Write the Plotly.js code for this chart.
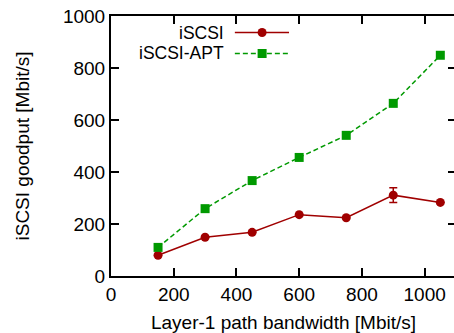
<!DOCTYPE html>
<html><head><meta charset="utf-8">
<script src="https://cdn.plot.ly/plotly-3.0.1.min.js"></script>
<style>html,body{margin:0;padding:0;overflow:hidden;background:#fff;}#chart{width:456px;height:333px;}</style>
</head><body><div id="chart"></div>
<script>
const bandwidth = [150, 300, 450, 600, 750, 900, 1050];
const iscsi = [80, 149, 168, 236, 224, 311, 283];
const iscsiErr = [0, 0, 0, 0, 0, 28, 0];
const iscsiApt = [110, 259, 367, 456, 541, 664, 849];
const seriesNames = ['iSCSI', 'iSCSI-APT'];
const tickVals = [0, 200, 400, 600, 800, 1000];

const red = '#a00000', green = '#009900';
const font = {family: 'Liberation Sans, Arial, sans-serif', size: 19, color: '#000'};
const legendFont = {family: 'Liberation Sans, Arial, sans-serif', size: 17.5, color: '#000'};

const traces = [
  {x: bandwidth, y: iscsi, name: seriesNames[0], type: 'scatter', mode: 'lines+markers',
   line: {color: red, width: 1.5}, marker: {color: red, size: 9, symbol: 'circle'},
   error_y: {type: 'data', array: iscsiErr, visible: true, color: red, thickness: 1.5, width: 4},
   showlegend: false},
  {x: bandwidth, y: iscsiApt, name: seriesNames[1], type: 'scatter', mode: 'lines+markers',
   line: {color: green, width: 1.5, dash: '5px,3px'}, marker: {color: green, size: 9, symbol: 'square'},
   showlegend: false}
];

const lgX = 0.330, lineX0 = 0.359, lineX1 = 0.516, mX = 0.438;
const rowY = [0.9365, 0.8558];
const annotations = seriesNames.map((n, i) => ({
  text: n, xref: 'paper', yref: 'paper', x: lgX, y: rowY[i], xanchor: 'right', yanchor: 'middle',
  showarrow: false, font: legendFont, height: 18, borderpad: 0
}));
const shapes = [
  {type: 'line', xref: 'paper', yref: 'paper', x0: lineX0, x1: lineX1, y0: rowY[0], y1: rowY[0], line: {color: red, width: 1.5}},
  {type: 'line', xref: 'paper', yref: 'paper', x0: lineX0, x1: lineX1, y0: rowY[1], y1: rowY[1], line: {color: green, width: 1.5, dash: '5px,3px'}},
  {type: 'circle', xref: 'paper', yref: 'paper', xsizemode: 'pixel', ysizemode: 'pixel', xanchor: mX, yanchor: rowY[0],
   x0: -4.5, x1: 4.5, y0: -4.5, y1: 4.5, fillcolor: red, line: {width: 0}},
  {type: 'rect', xref: 'paper', yref: 'paper', xsizemode: 'pixel', ysizemode: 'pixel', xanchor: mX, yanchor: rowY[1],
   x0: -4.5, x1: 4.5, y0: -4.5, y1: 4.5, fillcolor: green, line: {width: 0}}
];

const axisCommon = {showline: true, linecolor: '#000', linewidth: 2, mirror: 'ticks', ticks: 'inside',
  ticklen: 8, tickwidth: 2, tickcolor: '#000', showgrid: false, zeroline: false, tickfont: font, tickvals: tickVals};

const layout = {
  width: 456, height: 333,
  margin: {l: 111, r: 0, t: 16, b: 57},
  paper_bgcolor: '#fff', plot_bgcolor: '#fff',
  font: font,
  xaxis: Object.assign({}, axisCommon, {range: [0, 1100], title: {text: 'Layer-1 path bandwidth [Mbit/s]', font: font, standoff: 12}}),
  yaxis: Object.assign({}, axisCommon, {range: [0, 1000], title: {text: 'iSCSI goodput [Mbit/s]', font: font, standoff: 28}}),
  annotations: annotations, shapes: shapes, showlegend: false
};
Plotly.newPlot('chart', traces, layout, {staticPlot: true, displayModeBar: false});
</script></body></html>
